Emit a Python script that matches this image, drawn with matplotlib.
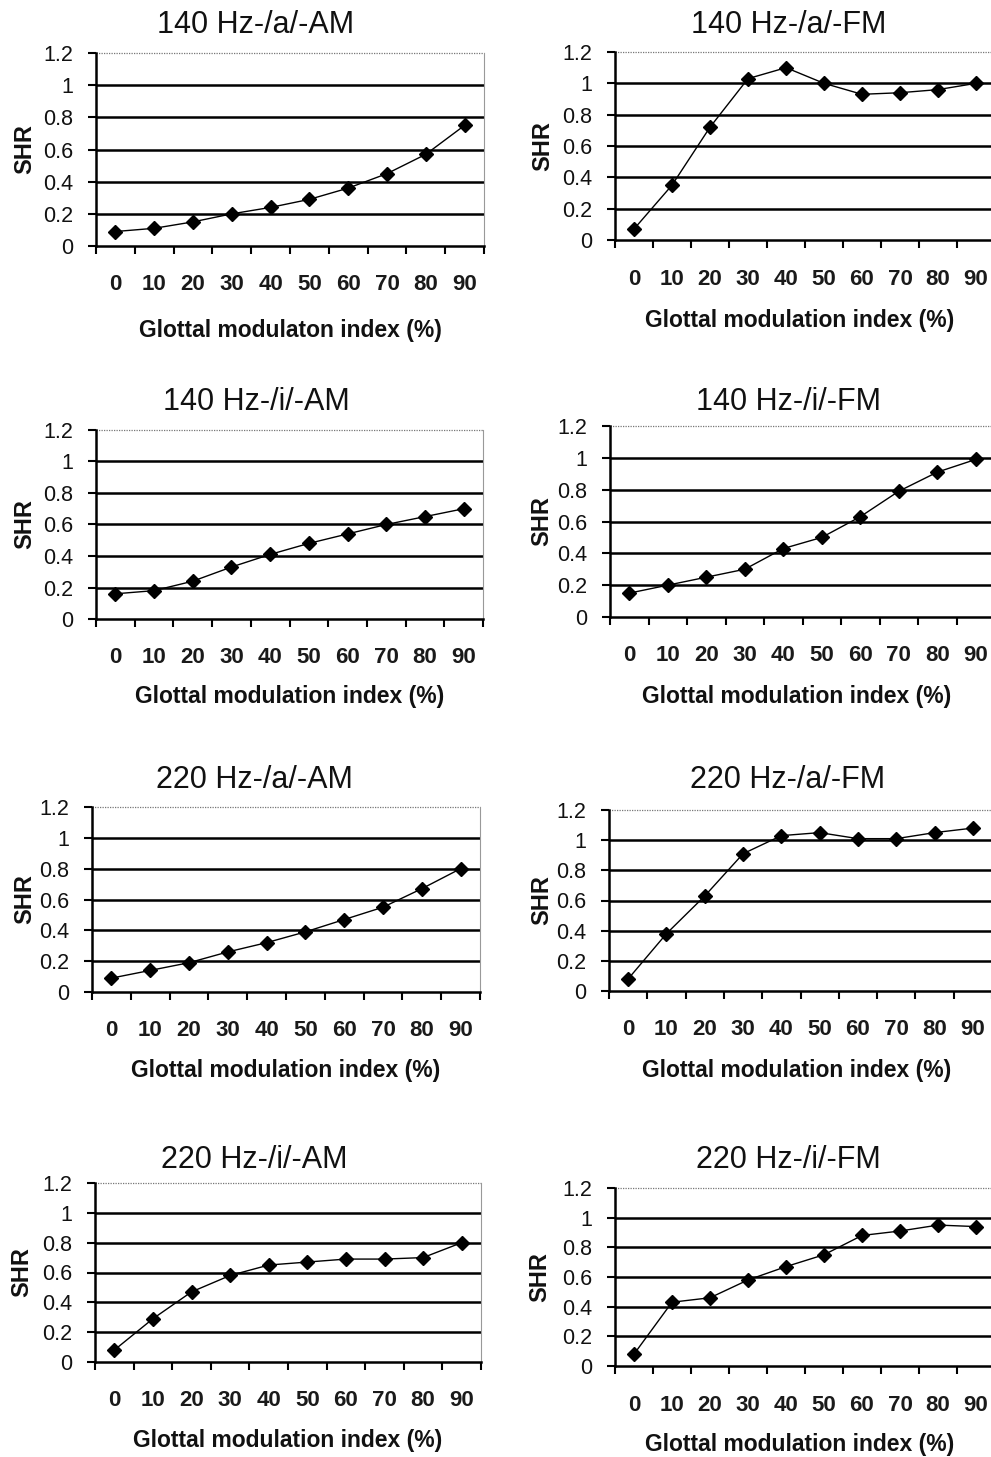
import matplotlib
matplotlib.use("Agg")
import matplotlib.pyplot as plt
from matplotlib.ticker import FixedLocator

W, H = 991, 1457

categories = ["0", "10", "20", "30", "40", "50", "60", "70", "80", "90"]
yticks = [0, 0.2, 0.4, 0.6, 0.8, 1.0, 1.2]
ytick_labels = ["0", "0.2", "0.4", "0.6", "0.8", "1", "1.2"]

titles = ["140 Hz-/a/-AM", "140 Hz-/a/-FM",
          "140 Hz-/i/-AM", "140 Hz-/i/-FM",
          "220 Hz-/a/-AM", "220 Hz-/a/-FM",
          "220 Hz-/i/-AM", "220 Hz-/i/-FM"]

xlabels = ["Glottal modulaton index (%)", "Glottal modulation index (%)",
           "Glottal modulation index (%)", "Glottal modulation index (%)",
           "Glottal modulation index (%)", "Glottal modulation index (%)",
           "Glottal modulation index (%)", "Glottal modulation index (%)"]

shr_140_a_am = [0.09, 0.11, 0.15, 0.20, 0.24, 0.29, 0.36, 0.45, 0.57, 0.75]
shr_140_a_fm = [0.07, 0.35, 0.72, 1.03, 1.10, 1.00, 0.93, 0.94, 0.96, 1.00]
shr_140_i_am = [0.16, 0.18, 0.24, 0.33, 0.41, 0.48, 0.54, 0.60, 0.65, 0.70]
shr_140_i_fm = [0.15, 0.20, 0.25, 0.30, 0.43, 0.50, 0.63, 0.79, 0.91, 0.99]
shr_220_a_am = [0.09, 0.14, 0.19, 0.26, 0.32, 0.39, 0.47, 0.55, 0.67, 0.80]
shr_220_a_fm = [0.08, 0.38, 0.63, 0.91, 1.03, 1.05, 1.01, 1.01, 1.05, 1.08]
shr_220_i_am = [0.08, 0.29, 0.47, 0.58, 0.65, 0.67, 0.69, 0.69, 0.70, 0.80]
shr_220_i_fm = [0.08, 0.43, 0.46, 0.58, 0.67, 0.75, 0.88, 0.91, 0.95, 0.94]

series = [shr_140_a_am, shr_140_a_fm, shr_140_i_am, shr_140_i_fm,
          shr_220_a_am, shr_220_a_fm, shr_220_i_am, shr_220_i_fm]

# layout in pixels: left, right, top(1.2), bottom(0), title_x, title_y, tick_y, xlabel_y, shr_x
layout = [
    (96, 484, 53, 246, 256, 25, 282, 330, 25),
    (615, 995, 52, 240, 789, 25, 277, 320, 543),
    (96, 483, 430, 619, 256, 402, 655, 697, 25),
    (610, 995, 426, 617, 789, 402, 653, 697, 542),
    (92, 480, 807, 992, 254, 780, 1028, 1070, 25),
    (609, 992, 810, 991, 788, 780, 1027, 1070, 542),
    (95, 481, 1183, 1362, 254, 1160, 1398, 1440, 22),
    (615, 995, 1188, 1366, 788, 1160, 1403, 1445, 540),
]

fig = plt.figure(figsize=(W / 100, H / 100), dpi=100)
fig.patch.set_facecolor("white")

PT = 72 / 100.0  # points per pixel

for k, (vals, lay) in enumerate(zip(series, layout)):
    L, R, T, B, tx, ty, tky, xly, shx = lay
    ax = fig.add_axes([L / W, 1 - B / H, (R - L) / W, (B - T) / H])
    ax.set_xlim(0, len(categories))
    ax.set_ylim(0, 1.2)
    xs = [i + 0.5 for i in range(len(categories))]
    for y in yticks[1:-1]:
        ax.axhline(y, color="black", lw=1.8, zorder=1)
    ax.axhline(1.2, color="#777777", lw=0.9, ls=(0, (1, 1)), zorder=1, clip_on=False)
    ax.plot(xs, vals, color="black", lw=1.0, marker="D", ms=7.5,
            markerfacecolor="black", markeredgecolor="black", zorder=3, clip_on=False)

    ax.spines["top"].set_visible(False)
    ax.spines["right"].set_color("#999999")
    ax.spines["right"].set_linewidth(0.8)
    ax.spines["left"].set_linewidth(1.8)
    ax.spines["bottom"].set_linewidth(1.8)

    ax.set_yticks(yticks)
    ax.set_yticklabels(ytick_labels, family=["Liberation Sans", "DejaVu Sans"],
                       fontsize=15.5, color="#111111")
    ax.tick_params(axis="y", direction="out", length=8 * PT, width=1.5,
                   pad=15 * PT)

    ax.xaxis.set_major_locator(FixedLocator(xs))
    ax.set_xticklabels(categories, family=["Liberation Sans", "DejaVu Sans"],
                       fontsize=16, fontweight="bold", color="#1a1a1a")
    ax.xaxis.set_minor_locator(FixedLocator(list(range(len(categories) + 1))))
    ax.tick_params(axis="x", which="major", length=0, pad=(tky - B - 8) * PT)
    ax.tick_params(axis="x", which="minor", direction="out", length=8 * PT, width=1.5)

    fig.text(tx / W, 1 - ty / H, titles[k], ha="center", va="center",
             family=["Liberation Sans", "DejaVu Sans"], fontsize=22, color="#111111")
    fig.text((L + min(R, 990)) / 2 / W + (0 if R < 900 else -0.003), 1 - xly / H, xlabels[k],
             ha="center", va="center", family=["Liberation Sans", "DejaVu Sans"],
             fontweight="bold", fontsize=16.5, color="#111111")
    fig.text(shx / W, 1 - (T + B) / 2 / H, "SHR", ha="center", va="center",
             rotation=90, family=["Liberation Sans", "DejaVu Sans"],
             fontweight="bold", fontsize=17, color="#111111")

fig.savefig("out.png", dpi=100, facecolor="white")
